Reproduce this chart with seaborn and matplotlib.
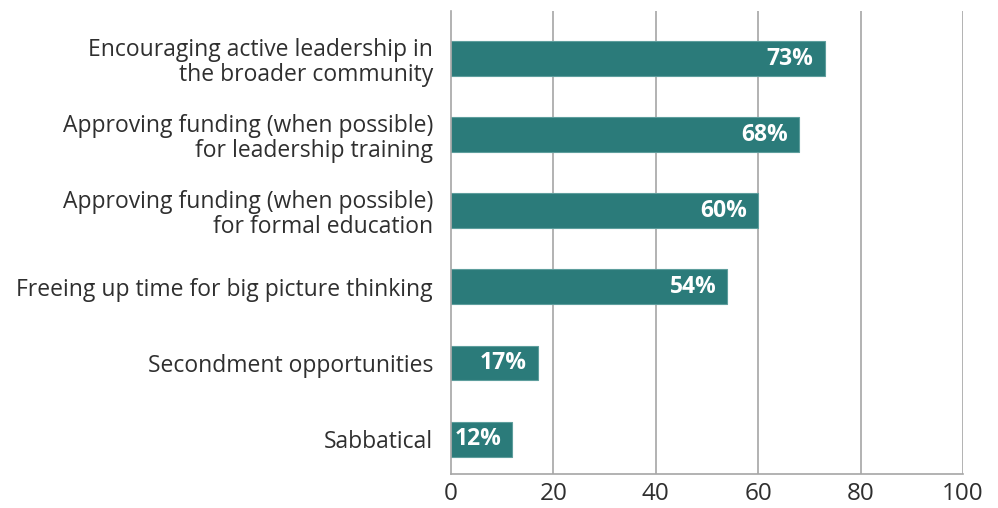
import matplotlib
matplotlib.use("Agg")
import matplotlib.pyplot as plt
import seaborn as sns
import pandas as pd
import numpy as np

categories = [
    "Encouraging active leadership in\nthe broader community",
    "Approving funding (when possible)\nfor leadership training",
    "Approving funding (when possible)\nfor formal education",
    "Freeing up time for big picture thinking",
    "Secondment opportunities",
    "Sabbatical",
]
values = [73, 68, 60, 54, 17, 12]
labels = ["73%", "68%", "60%", "54%", "17%", "12%"]
xticks = [0, 20, 40, 60, 80, 100]

sns.set_theme(style="white")
plt.rcParams["font.family"] = ["Open Sans", "DejaVu Sans"]

df = pd.DataFrame({"category": categories, "value": values})

fig = plt.figure(figsize=(9.98, 5.08), dpi=100)
ax = fig.add_axes([451/998, 34/508, (963-451)/998, (474-11)/508])

grid_c = "#a6a6a6"
txt_c = "#2f2f2f"
for x in xticks[1:]:
    ax.axvline(x, color=grid_c, lw=1.2, zorder=0)

sns.barplot(data=df, x="value", y="category", color="#2b7b7a", width=0.46,
            saturation=1, edgecolor="#5e9e9d", linewidth=0.8, ax=ax, zorder=2)

for i, (v, lab) in enumerate(zip(values, labels)):
    ax.text(v - 2.2, i, lab, ha="right", va="center", color="white",
            fontsize=16.5, fontweight="bold", zorder=3)

n = len(categories)
y_top, y_bot = -0.63, n - 0.54
ax.set_xlim(0, 100)
ax.set_ylim(y_bot, y_top)
ax.set_xticks(xticks)
ax.set_xticklabels([str(t) for t in xticks], fontsize=17.5, color=txt_c)
ax.tick_params(axis="x", length=5, width=1.2, color=grid_c, pad=1)
ax.tick_params(axis="y", which="major", length=0, pad=13, labelsize=16.5, labelcolor=txt_c)
ax.set_yticks([y_top] + list(np.arange(0.5, n - 1, 1.0)) + [y_bot], minor=True)
ax.tick_params(axis="y", which="minor", length=6, width=1.2, color=grid_c)
for lab in ax.get_yticklabels():
    lab.set_multialignment("right")
    lab.set_linespacing(1.05)
ax.set_xlabel("")
ax.set_ylabel("")
for s in ["top", "right"]:
    ax.spines[s].set_visible(False)
for s in ["left", "bottom"]:
    ax.spines[s].set_color(grid_c)
    ax.spines[s].set_linewidth(1.2)

fig.savefig("out.png", dpi=100)
